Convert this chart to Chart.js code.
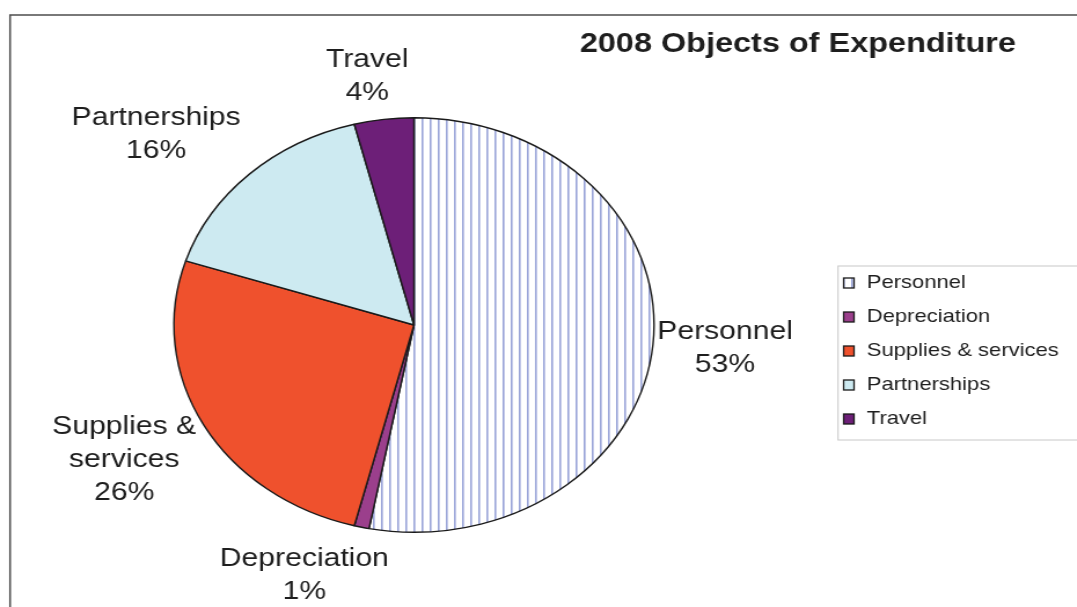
<!DOCTYPE html>
<html>
<head>
<meta charset="utf-8">
<script src="https://cdn.jsdelivr.net/npm/chart.js@4.4.0/dist/chart.umd.min.js"></script>
<style>
  html, body { margin: 0; padding: 0; background: #fff; overflow: hidden; }
  #wrap { position: absolute; left: 0; top: 0; width: 930px; height: 607px; transform: scaleX(1.158); transform-origin: 0 0; }
</style>
</head>
<body>
<div id="wrap"><canvas id="c"></canvas></div>
<script>
// ---- data ----
const categories = ["Personnel", "Depreciation", "Supplies & services", "Partnerships", "Travel"];
const pieLabelLines = [["Personnel"], ["Depreciation"], ["Supplies &", "services"], ["Partnerships"], ["Travel"]];
const shares = [53, 1, 26, 16, 4];
const chartTitle = "2008 Objects of Expenditure";

// ---- styles ----
const FONT = '"Liberation Sans", Arial, sans-serif';
const TEXT = '#1e1e1e';
const fills = ['#ffffff', '#9b3f8c', '#ef512d', '#cdeaf1', '#6d1f78'];
// label nudges (px, unscaled canvas coordinates) for text placement only
const labelNudge = [[-3, 0], [-32, 9], [-8, 8], [-26, -10], [-9, -3]];

function hatch() {
  const c = document.createElement('canvas');
  c.width = 7; c.height = 7;
  const x = c.getContext('2d');
  x.fillStyle = '#ffffff'; x.fillRect(0, 0, 7, 7);
  x.fillStyle = '#9aa5d9'; x.fillRect(0, 0, 1.6, 7);
  return x.createPattern(c, 'repeat');
}
const pattern = hatch();
const bg = fills.map((f, i) => i === 0 ? pattern : f);

const framePlugin = {
  id: 'frame',
  beforeDraw(chart) {
    const ctx = chart.ctx;
    ctx.save();
    ctx.fillStyle = '#fff';
    ctx.fillRect(0, 0, chart.width, chart.height);
    ctx.strokeStyle = '#4d4d4d';
    ctx.lineWidth = 1.5;
    ctx.strokeRect(8.7, 15, 1000, 700);
    ctx.fillStyle = TEXT;
    ctx.font = 'bold 28px ' + FONT;
    ctx.textAlign = 'center';
    ctx.textBaseline = 'alphabetic';
    ctx.fillText(chartTitle, 689, 52);
    ctx.restore();
  },
  afterDraw(chart) {
    const ctx = chart.ctx;
    ctx.save();
    ctx.strokeStyle = '#c8c8c8';
    ctx.lineWidth = 1;
    ctx.strokeRect(723.7, 266, 400, 174);
    categories.forEach((name, i) => {
      const cy = 283 + 34 * i;
      ctx.fillStyle = bg[i];
      ctx.fillRect(728.5, cy - 5, 9, 10);
      ctx.strokeStyle = '#1a1a1a';
      ctx.lineWidth = 1.3;
      ctx.strokeRect(728.5, cy - 5, 9, 10);
      ctx.fillStyle = TEXT;
      ctx.font = '19px ' + FONT;
      ctx.textAlign = 'left';
      ctx.textBaseline = 'middle';
      ctx.fillText(name, 748.5, cy);
    });
    ctx.restore();
  }
};

const labelPlugin = {
  id: 'sliceLabels',
  afterDatasetsDraw(chart) {
    const ctx = chart.ctx;
    const meta = chart.getDatasetMeta(0);
    const data = chart.data.datasets[0].data;
    const total = data.reduce((a, b) => a + b, 0);
    ctx.save();
    ctx.font = '26px ' + FONT;
    ctx.fillStyle = TEXT;
    ctx.textAlign = 'center';
    ctx.textBaseline = 'middle';
    const lh = 33;
    meta.data.forEach((arc, i) => {
      const p = arc.getProps(['x', 'y', 'startAngle', 'endAngle', 'outerRadius'], true);
      const mid = (p.startAngle + p.endAngle) / 2;
      const cs = Math.cos(mid), sn = Math.sin(mid);
      const lines = pieLabelLines[i].concat([Math.round(data[i] / total * 100) + '%']);
      let w = 0;
      lines.forEach(l => { w = Math.max(w, ctx.measureText(l).width); });
      const h = lines.length * lh;
      const r = p.outerRadius + 7;
      const cx = p.x + r * cs + (w / 2) * cs + labelNudge[i][0];
      const cy = p.y + r * sn + (h / 2) * sn + labelNudge[i][1];
      lines.forEach((l, k) => {
        ctx.fillText(l, cx, cy - h / 2 + lh / 2 + k * lh);
      });
    });
    ctx.restore();
  }
};

new Chart(document.getElementById('c'), {
  type: 'pie',
  data: {
    labels: categories,
    datasets: [{
      data: shares,
      backgroundColor: bg,
      borderColor: '#1a1a1a',
      borderWidth: 1.4
    }]
  },
  options: {
    responsive: true,
    maintainAspectRatio: false,
    animation: false,
    events: [],
    layout: { padding: { top: 117, bottom: 74, left: 149.5, right: 364.5 } },
    plugins: { legend: { display: false }, tooltip: { enabled: false }, title: { display: false } }
  },
  plugins: [framePlugin, labelPlugin]
});
</script>
</body>
</html>
